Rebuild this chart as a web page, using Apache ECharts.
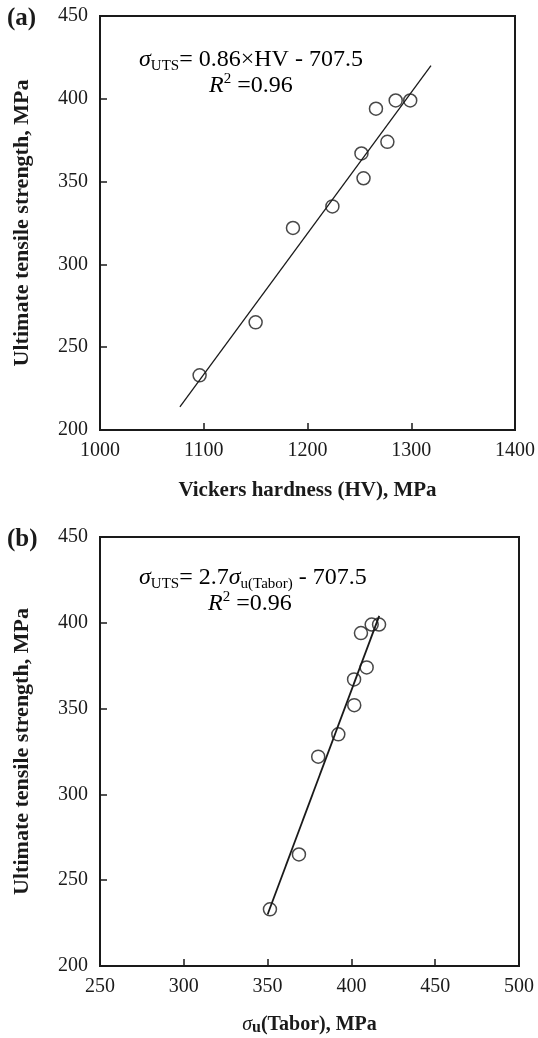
<!DOCTYPE html>
<html>
<head>
<meta charset="utf-8">
<script src="https://cdn.jsdelivr.net/npm/echarts@6/dist/echarts.min.js"></script>
<style>
html,body{margin:0;padding:0;background:#fff;}
#c{width:538px;height:1038px;}
</style>
</head>
<body>
<div id="c"></div>
<script>
// ---- data ----
const hardnessHV = [1096, 1150, 1186, 1224, 1252, 1254, 1266, 1277, 1285, 1299];
const utsA = [233, 265, 322, 335, 367, 352, 394, 374, 399, 399];
const taborSigma = [351.4, 368.7, 380.2, 392.2, 401.6, 401.7, 405.7, 409.1, 412.1, 416.5];
const utsB = [233, 265, 322, 335, 367, 352, 394, 374, 399, 399];
const fitA_x = [1077, 1319];
const fitA_y = [214, 420];
const fitB_x = [350, 416.6];
const fitB_y = [230, 404];
const xTicksA = [1000, 1100, 1200, 1300, 1400];
const xTicksB = [250, 300, 350, 400, 450, 500];
const yTicks = [200, 250, 300, 350, 400, 450];

const pairs = (xs, ys) => xs.map((x, i) => [x, ys[i]]);
const serif = '"Liberation Serif", "DejaVu Serif", serif';
const ink = '#1a1a1a';

function xAxisCfg(idx, ticks, name, nameGap, nameStyle) {
  return {
    gridIndex: idx, type: 'value',
    min: ticks[0], max: ticks[ticks.length - 1], interval: ticks[1] - ticks[0],
    name: name, nameLocation: 'middle', nameGap: nameGap,
    nameTextStyle: nameStyle,
    axisLine: { show: true, onZero: false, lineStyle: { color: ink, width: 2 } },
    axisTick: { show: true, inside: true, length: 7, lineStyle: { color: ink, width: 1.5 } },
    axisLabel: { color: ink, fontFamily: serif, fontSize: 20, margin: 11, formatter: v => String(v) },
    splitLine: { show: false }
  };
}
function yAxisCfg(idx) {
  return {
    gridIndex: idx, type: 'value',
    min: yTicks[0], max: yTicks[yTicks.length - 1], interval: yTicks[1] - yTicks[0],
    name: 'Ultimate tensile strength, MPa', nameLocation: 'middle', nameGap: 67,
    nameTextStyle: { color: ink, fontFamily: serif, fontSize: 22, fontWeight: 'bold' },
    axisLine: { show: true, onZero: false, lineStyle: { color: ink, width: 2 } },
    axisTick: { show: true, inside: true, length: 7, lineStyle: { color: ink, width: 1.5 } },
    axisLabel: { color: ink, fontFamily: serif, fontSize: 20, margin: 12, formatter: v => String(v) },
    splitLine: { show: false }
  };
}

const scatterStyle = {
  symbol: 'circle', symbolSize: 13,
  itemStyle: { color: 'rgba(0,0,0,0)', borderColor: ink, borderWidth: 1.5 }
};

const eqRich = {
  m: { fontFamily: serif, fontSize: 24, color: ink, lineHeight: 28, verticalAlign: 'middle' },
  i: { fontFamily: serif, fontSize: 24, fontStyle: 'italic', color: ink, lineHeight: 28, verticalAlign: 'middle' },
  sub: { fontFamily: serif, fontSize: 15, color: ink, lineHeight: 12, verticalAlign: 'bottom' },
  sup: { fontFamily: serif, fontSize: 15, color: ink, lineHeight: 16, verticalAlign: 'top' }
};

const chart = echarts.init(document.getElementById('c'), null, { renderer: 'canvas' });
chart.setOption({
  animation: false,
  backgroundColor: '#fff',
  grid: [
    { left: 100, top: 16, width: 419, height: 414, show: true, borderColor: ink, borderWidth: 2, backgroundColor: 'transparent' },
    { left: 100, top: 537, width: 419, height: 429, show: true, borderColor: ink, borderWidth: 2, backgroundColor: 'transparent' }
  ],
  xAxis: [
    xAxisCfg(0, xTicksA, 'Vickers hardness (HV), MPa', 50,
      { color: ink, fontFamily: serif, fontSize: 21, fontWeight: 'bold' }),
    xAxisCfg(1, xTicksB, '{s|σ}{u|u}{b|(Tabor), MPa}', 48,
      { rich: {
        s: { fontFamily: serif, fontSize: 20, fontStyle: 'italic', color: ink, lineHeight: 22, verticalAlign: 'middle' },
        u: { fontFamily: serif, fontSize: 16, fontWeight: 'bold', color: ink, lineHeight: 14, verticalAlign: 'bottom' },
        b: { fontFamily: serif, fontSize: 20, fontWeight: 'bold', color: ink, lineHeight: 22, verticalAlign: 'middle' }
      } })
  ],
  yAxis: [yAxisCfg(0), yAxisCfg(1)],
  series: [
    Object.assign({ type: 'scatter', xAxisIndex: 0, yAxisIndex: 0, data: pairs(hardnessHV, utsA) }, scatterStyle),
    { type: 'line', xAxisIndex: 0, yAxisIndex: 0, data: pairs(fitA_x, fitA_y), symbol: 'none',
      lineStyle: { color: ink, width: 1.3 } },
    Object.assign({ type: 'scatter', xAxisIndex: 1, yAxisIndex: 1, data: pairs(taborSigma, utsB) }, scatterStyle),
    { type: 'line', xAxisIndex: 1, yAxisIndex: 1, data: pairs(fitB_x, fitB_y), symbol: 'none',
      lineStyle: { color: ink, width: 1.8 } }
  ],
  graphic: [
    { type: 'text', left: 7, top: 6, style: { text: '(a)', fontFamily: serif, fontSize: 25, fontWeight: 'bold', fill: ink } },
    { type: 'text', left: 7, top: 527, style: { text: '(b)', fontFamily: serif, fontSize: 25, fontWeight: 'bold', fill: ink } },
    { type: 'text', left: 139, top: 48, style: { text: '{i|σ}{sub|UTS}{m|= 0.86×HV - 707.5}', rich: eqRich } },
    { type: 'text', left: 209, top: 72, style: { text: '{i|R}{sup|2}{m| =0.96}', rich: eqRich } },
    { type: 'text', left: 139, top: 566, style: { text: '{i|σ}{sub|UTS}{m|= 2.7}{i|σ}{sub|u(Tabor)}{m| - 707.5}', rich: eqRich } },
    { type: 'text', left: 208, top: 590, style: { text: '{i|R}{sup|2}{m| =0.96}', rich: eqRich } }
  ]
});
</script>
</body>
</html>
